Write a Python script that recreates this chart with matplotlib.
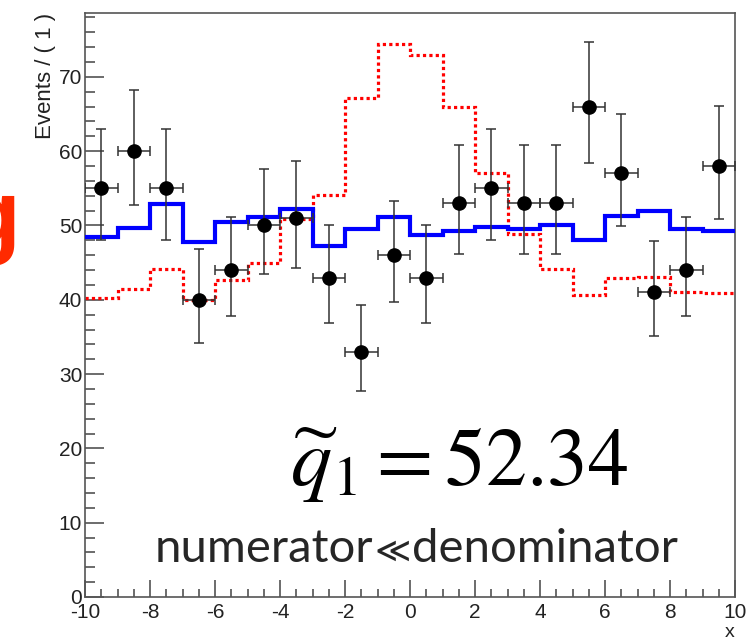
import matplotlib
matplotlib.use("Agg")
import matplotlib.pyplot as plt
import numpy as np
from matplotlib.ticker import MultipleLocator

plt.rcParams['font.family'] = ['Liberation Sans', 'DejaVu Sans']
plt.rcParams['axes.unicode_minus'] = False
plt.rcParams['mathtext.fontset'] = 'stix'

# ---- data ----
bin_edges = [-10, -9, -8, -7, -6, -5, -4, -3, -2, -1, 0, 1, 2, 3, 4, 5, 6, 7, 8, 9, 10]
x_centers = [-9.5, -8.5, -7.5, -6.5, -5.5, -4.5, -3.5, -2.5, -1.5, -0.5,
             0.5, 1.5, 2.5, 3.5, 4.5, 5.5, 6.5, 7.5, 8.5, 9.5]
counts = [55, 60, 55, 40, 44, 50, 51, 43, 33, 46, 43, 53, 55, 53, 53, 66, 57, 41, 44, 58]
err_low = [6.93, 7.26, 6.93, 5.84, 6.15, 6.59, 6.66, 6.08, 5.27, 6.30,
           6.08, 6.80, 6.93, 6.80, 6.80, 7.64, 7.07, 5.92, 6.15, 7.13]
err_high = [7.93, 8.26, 7.93, 6.84, 7.15, 7.59, 7.66, 7.08, 6.27, 7.30,
            7.08, 7.80, 7.93, 7.80, 7.80, 8.64, 8.07, 6.92, 7.15, 8.13]
blue_model = [48.4, 49.7, 52.9, 47.8, 50.5, 51.1, 52.2, 47.2, 49.5, 51.1,
              48.7, 49.3, 49.8, 49.5, 50.1, 48.1, 51.3, 51.9, 49.5, 49.3]
red_model = [40.3, 41.5, 44.1, 40.0, 42.7, 45.0, 50.9, 54.1, 67.2, 74.4,
             72.9, 65.9, 57.0, 48.9, 44.2, 40.7, 42.9, 43.1, 41.1, 40.9]
x_halfwidth = [0.5] * 20

W, H = 751, 640
fig = plt.figure(figsize=(W / 100, H / 100), dpi=100)
ax = fig.add_axes([85 / W, (H - 597) / H, (735 - 85) / W, (597 - 13) / H])

ax.stairs(red_model, bin_edges, baseline=None, color='#ff0000', lw=2.3,
          linestyle=(0, (1, 1)), zorder=2)
ax.stairs(blue_model, bin_edges, baseline=None, color='#0000ff', lw=3.0, zorder=3)

ax.errorbar(x_centers, counts, yerr=[err_low, err_high], xerr=x_halfwidth,
            fmt='o', color='black', ecolor='#333333', elinewidth=1.1,
            capsize=3.5, capthick=1.1, markersize=9.5, zorder=4)

ax.set_xlim(-10, 10)
ax.set_ylim(0, 78.6)
ax.xaxis.set_major_locator(MultipleLocator(2))
ax.xaxis.set_minor_locator(MultipleLocator(0.5))
ax.yaxis.set_major_locator(MultipleLocator(10))
ax.yaxis.set_minor_locator(MultipleLocator(2))
ax.tick_params(axis='both', which='both', direction='in', colors='#444444',
               labelcolor='#222222', labelsize=15, width=1.1)
ax.tick_params(axis='y', which='major', length=14, pad=2)
ax.tick_params(axis='y', which='minor', length=7)
ax.tick_params(axis='x', which='major', length=12, pad=4)
ax.tick_params(axis='x', which='minor', length=6)
for s in ax.spines.values():
    s.set_color('#555555')
    s.set_linewidth(1.2)

ax.set_ylabel('Events / ( 1 )', fontsize=16, color='#222222', loc='top', labelpad=2)
ax.set_xlabel('x', fontsize=14, color='#222222', loc='right', labelpad=2)

fig.text(290 / W, (H - 485) / H, r'$\widetilde{q}_{\mathrm{1}} = 52.34$',
         fontsize=59, color='black', ha='left', va='baseline')

# "numerator≪denominator" drawn piecewise so ≪ comes from a font that has it
renderer = fig.canvas.get_renderer()
x_px = 155
y_fig = (H - 562) / H
pieces = [('numerator', ['Lato'], 34, 'normal'),
          ('\u226a', ['DejaVu Sans'], 25, 'normal'),
          ('denominator', ['Lato'], 34, 'normal')]
for txt, fam, size, wt in pieces:
    t = fig.text(x_px / W, y_fig, txt, family=fam, fontsize=size, fontweight=wt,
                 color='#262626', ha='left', va='baseline')
    bb = t.get_window_extent(renderer)
    x_px = bb.x1 + 1

fig.text(20 / W, (H - 246) / H, 'g', fontsize=68, fontweight='bold',
         color='#ff2a00', ha='right', va='baseline')

fig.savefig('out.png', dpi=100)
